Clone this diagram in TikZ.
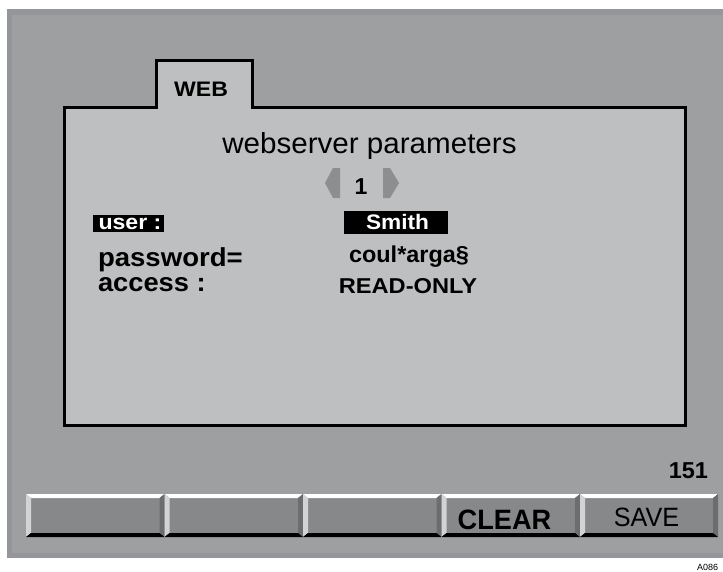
\documentclass[tikz,border=0pt]{standalone}
\usepackage{fontspec}
\setmainfont{Liberation Sans}
\usepackage{graphicx}
\definecolor{bgedge}{HTML}{95969A}
\definecolor{bgmain}{HTML}{9E9FA1}
\definecolor{panelc}{HTML}{BEBFC1}
\definecolor{arrowc}{HTML}{8D8E90}
\definecolor{btnface}{HTML}{87888A}
\definecolor{btnleft}{HTML}{D2D3D5}
\definecolor{btnright}{HTML}{6C6D6F}
\newcommand{\hx}[2]{\scalebox{#1}[1]{#2}}
\newcommand{\fs}[1]{\fontsize{#1}{#1}\selectfont}
\newcommand{\button}[3]{%
  \node[name=#1, fill=btnface, inner sep=0pt, outer sep=0pt, anchor=north west,
        minimum width=#3-#2, minimum height=43] at (#2,494) {};
  \fill[white] (#2,494) -- (#3,494) -- (#3-5,498) -- (#2+5,498) -- cycle;
  \fill[btnleft] (#2,494) -- (#2+5,498) -- (#2+5,533) -- (#2,537) -- cycle;
  \fill[btnright] (#3,494) -- (#3,537) -- (#3-5,533) -- (#3-5,498) -- cycle;
  \fill[black] (#2,537) -- (#3,537) -- (#3-5,533) -- (#2+5,533) -- cycle;
}
\begin{document}
\begin{tikzpicture}[x=1pt,y=-1pt,
  txt/.style={inner sep=0pt, outer sep=0pt, text=black},
  hilite/.style={fill=black, inner sep=0pt, outer sep=0pt, anchor=north west}]
\useasboundingbox (0,0) rectangle (723,571);
\fill[white] (0,0) rectangle (723,571);
\fill[bgedge] (7,9) rectangle (723,558);
\fill[bgmain] (12,15) rectangle (723,553);
% panel with tab
\draw[line width=3pt, fill=panelc, line join=miter]
  (64.5,425.5) -- (64.5,107) -- (156.5,107) -- (156.5,60.5) -- (252,60.5)
  -- (252,107) -- (685.5,107) -- (685.5,425.5) -- cycle;
\node[txt, anchor=base] (web) at (201,96) {\fs{21}\bfseries\hx{1.1}{WEB}};
\node[txt, anchor=base] (title) at (369.5,153) {\fs{29}\hx{1.02}{webserver parameters}};
% page selector
\fill[arrowc] (340,168) -- (333,168) -- (325,183) -- (333,198) -- (340,198) -- cycle;
\fill[arrowc] (383,168) -- (390,168) -- (399,183) -- (390,198) -- (383,198) -- cycle;
\node[txt, anchor=base] (num) at (361,194) {\fs{23}\bfseries 1};
% fields
\node[hilite, minimum width=71, minimum height=17] (userbox) at (93,215) {};
\node[txt, text=white, anchor=base west] (user) at (98.5,229.5) {\fs{21}\bfseries\hx{1.1}{user :}};
\node[txt, anchor=base west] (pwd) at (98,266) {\fs{26}\bfseries\hx{1.06}{password=}};
\node[txt, anchor=base west] (acc) at (98,291) {\fs{26}\bfseries\hx{1.05}{access :}};
\node[hilite, minimum width=104, minimum height=23] (smithbox) at (344,211) {};
\node[txt, text=white, anchor=base] (smith) at (397.5,229) {\fs{21}\bfseries\hx{1.08}{Smith}};
\node[txt, anchor=base] (pval) at (409,262) {\fs{23}\bfseries\hx{1.02}{coul*arga§}};
\node[txt, anchor=base] (aval) at (408,293) {\fs{21.5}\bfseries\hx{1.1}{READ-ONLY}};
% counter
\node[txt, anchor=base east] (count) at (708,478) {\fs{23}\bfseries\hx{1.02}{151}};
% buttons
\button{b1}{26}{164.5}
\button{b2}{164.5}{303}
\button{b3}{303}{441.5}
\button{b4}{441.5}{580}
\button{b5}{580}{718}
\node[txt, anchor=base] (clear) at (504.5,529) {\fs{28}\bfseries\hx{0.97}{CLEAR}};
\node[txt, anchor=base] (save) at (646.5,526) {\fs{26.5}\hx{0.95}{SAVE}};
\node[txt, anchor=base west] (ref) at (697,570) {\fs{9}A086};
\end{tikzpicture}
\end{document}
